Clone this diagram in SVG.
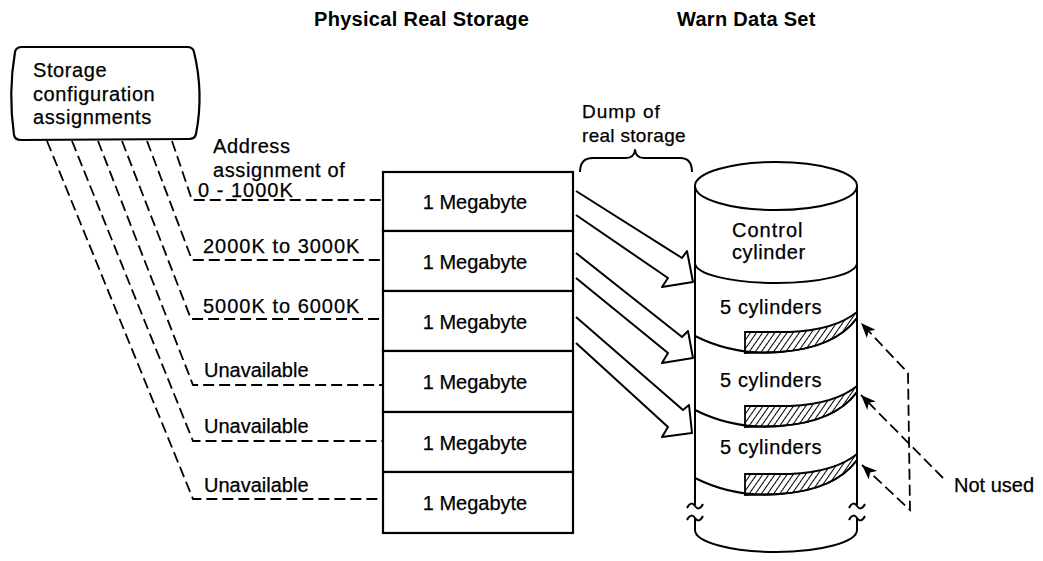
<svg xmlns="http://www.w3.org/2000/svg" width="1043" height="561" viewBox="0 0 1043 561">
<style>
.t{font-family:"Liberation Sans",Arial,Helvetica,sans-serif;font-size:20px;fill:#000;stroke:#000;stroke-width:0.25px}
.tb{font-weight:bold;letter-spacing:0.3px;stroke-width:0}
.w{letter-spacing:1px}
.w5{letter-spacing:0.6px}
.ln{fill:none;stroke:#000;stroke-width:2;stroke-linejoin:round}
.box{fill:#fff;stroke:#000;stroke-width:2.2}
.dash{fill:none;stroke:#000;stroke-width:1.8;stroke-dasharray:11 5}
.hatch{fill:url(#hatch);stroke:#000;stroke-width:1.8}
</style>
<defs>
<pattern id="hatch" width="5" height="6" patternUnits="userSpaceOnUse" patternTransform="rotate(35)">
<line x1="0" y1="-1" x2="0" y2="7" stroke="#000" stroke-width="2"/>
</pattern>
<marker id="ah" markerWidth="16" markerHeight="12" refX="15" refY="6" orient="auto-start-reverse" markerUnits="userSpaceOnUse">
<path d="M0,0 L15,6 L0,12 L4,6 Z" fill="#000"/>
</marker>
<g id="divider">
<path class="ln" d="M695,336 Q735,356 780,352 Q835,348 857,318"/>
<path class="hatch" d="M745,332 L790,332 Q835,330 857,312 L857,318 Q835,348 780,352 L745,353 Z"/>
</g>
<path id="tilde" d="M-8,2 C-5,-4 -2,-3 0,0 C2,3 5,4 8,-2" fill="none" stroke="#000" stroke-width="2"/>
</defs>
<rect width="1043" height="561" fill="#fff"/>

<g id="title-physical-real-storage">
<text class="t tb" x="314" y="26">Physical Real Storage</text>
</g>
<g id="title-warn-data-set">
<text class="t tb" x="677" y="26">Warn Data Set</text>
</g>

<g id="storage-configuration-assignments">
<path class="box" d="M22,47 L187,47 Q193,47 194,52 Q204,93 196,134 Q195,139 189,139 L21,140 Q15,140 14,135 Q8,93 15,52 Q16,47 22,47 Z"/>
<text class="t w5" x="33" y="77">Storage</text>
<text class="t w5" x="33" y="101">configuration</text>
<text class="t w5" x="33" y="124">assignments</text>
</g>

<g id="physical-real-storage">
<g id="mb1"><rect class="box" x="383" y="172" width="190" height="59"/><text class="t" x="475" y="209" text-anchor="middle">1 Megabyte</text></g>
<g id="mb2"><rect class="box" x="383" y="231" width="190" height="60"/><text class="t" x="475" y="269" text-anchor="middle">1 Megabyte</text></g>
<g id="mb3"><rect class="box" x="383" y="291" width="190" height="60"/><text class="t" x="475" y="329" text-anchor="middle">1 Megabyte</text></g>
<g id="mb4"><rect class="box" x="383" y="351" width="190" height="61"/><text class="t" x="475" y="389" text-anchor="middle">1 Megabyte</text></g>
<g id="mb5"><rect class="box" x="383" y="412" width="190" height="60"/><text class="t" x="475" y="450" text-anchor="middle">1 Megabyte</text></g>
<g id="mb6"><rect class="box" x="383" y="472" width="190" height="61"/><text class="t" x="475" y="510" text-anchor="middle">1 Megabyte</text></g>
</g>

<g id="dump-of-real-storage">
<text class="t" x="582" y="118" style="font-size:19px;letter-spacing:1px">Dump of</text>
<text class="t" x="582" y="142" style="font-size:19px;letter-spacing:0.3px">real storage</text>
<path class="ln" d="M580,172 Q580,158 593,158 L626,158 Q634,158 635,150 Q636,158 644,158 L680,158 Q692,158 692,172"/>
</g>

<g id="warn-data-set">
<path d="M695,186 L695,530 A81,22 0 0 0 857,530 L857,186 Z" fill="#fff"/>
<ellipse class="ln" cx="776" cy="186" rx="81" ry="24" fill="#fff"/>
<path class="ln" d="M695,186 L695,505 M695,518 L695,530 A81,22 0 0 0 857,530 L857,518 M857,505 L857,186"/>
<use href="#tilde" x="695" y="506"/>
<use href="#tilde" x="695" y="518"/>
<use href="#tilde" x="857" y="506"/>
<use href="#tilde" x="857" y="518"/>
<g id="control-cylinder">
<path class="ln" d="M695,263 A81,20 0 0 0 857,263"/>
<text class="t w" x="732" y="237">Control</text>
<text class="t w5" x="732" y="259">cylinder</text>
</g>
<g id="cylinders-1">
<use href="#divider"/>
<text class="t w5" x="720" y="314">5 cylinders</text>
</g>
<g id="cylinders-2">
<use href="#divider" transform="translate(0,74)"/>
<text class="t w5" x="720" y="387">5 cylinders</text>
</g>
<g id="cylinders-3">
<use href="#divider" transform="translate(0,142)"/>
<text class="t w5" x="720" y="454">5 cylinders</text>
</g>
</g>

<g id="not-used-label">
<text class="t" x="954" y="492">Not used</text>
</g>

<g id="assignment-labels">
<text class="t w5" x="213" y="153">Address</text>
<text class="t w5" x="213" y="177">assignment of</text>
<text class="t w" x="198" y="197">0 - 1000K</text>
<text class="t w" x="203" y="253">2000K to 3000K</text>
<text class="t w" x="203" y="313">5000K to 6000K</text>
<text class="t" x="204" y="377">Unavailable</text>
<text class="t" x="204" y="433">Unavailable</text>
<text class="t" x="204" y="492">Unavailable</text>
</g>

<g id="connectors">
<polyline class="dash" points="47,141 193,499 383,499"/>
<polyline class="dash" points="72,141 193,441 383,441"/>
<polyline class="dash" points="98,141 193,385 383,385"/>
<polyline class="dash" points="122,141 191,319 383,319"/>
<polyline class="dash" points="147,141 192,260 383,260"/>
<polyline class="dash" points="172,141 192,200 383,200"/>
<path class="ln" d="M576,191 L682,258 L687,251 L693,282 L662,287 L668,278 L576,215"/>
<path class="ln" d="M576,253 L682,337 L688,331 L693,358 L662,363 L668,353 L576,278"/>
<path class="ln" d="M576,317 L683,410 L689,405 L692,433 L662,437 L668,427 L576,343"/>
<polyline class="dash" points="862,465 910,510 908,373 861,323" marker-start="url(#ah)" marker-end="url(#ah)"/>
<line class="dash" x1="943" y1="478" x2="861" y2="395" marker-end="url(#ah)"/>
</g>
</svg>
